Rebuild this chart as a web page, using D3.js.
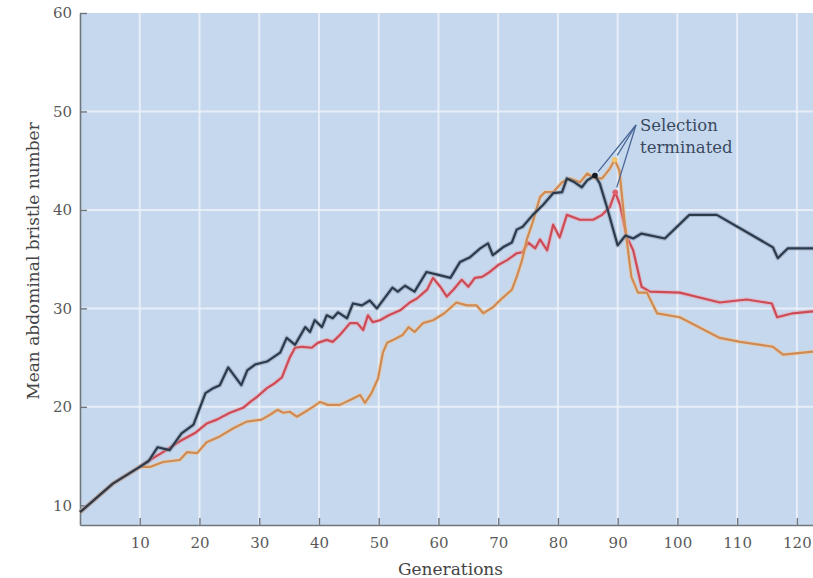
<!DOCTYPE html>
<html>
<head>
<meta charset="utf-8">
<script src="https://cdn.jsdelivr.net/npm/d3@7"></script>
<style>
  body { margin: 0; background: #fff; }
  svg { display: block; }
</style>
</head>
<body>
<div id="chart"></div>
<script>
// Values (generation, mean bristle number)
const xTicks = [10, 20, 30, 40, 50, 60, 70, 80, 90, 100, 110, 120];
const yTicks = [10, 20, 30, 40, 50, 60];

const darkGen = [0, 5.5, 10, 11.5, 13, 15, 17, 19, 21, 22.3, 23.4, 24.8, 27, 28, 29.3, 31.3, 33.5, 34.6, 36, 37.7, 38.5, 39.3, 40.5, 41.3, 42.3, 43.2, 44.7, 45.7, 47.2, 48.5, 49.7, 52.3, 53.2, 54.4, 56, 58, 60, 62, 63.6, 65.3, 67, 68.3, 69.1, 70.8, 72.3, 73.1, 74.1, 75.8, 77.5, 79.2, 80.7, 81.5, 82.8, 84, 84.9, 86.2, 87, 88.2, 90, 91.3, 92.6, 94, 97.9, 102, 106.6, 116, 116.8, 118.5, 122.7];
const darkVal = [9.3, 12.2, 13.9, 14.5, 15.9, 15.6, 17.3, 18.2, 21.4, 21.9, 22.2, 24.0, 22.2, 23.7, 24.3, 24.6, 25.5, 27, 26.3, 28.1, 27.6, 28.8, 28.1, 29.3, 29, 29.6, 29, 30.5, 30.3, 30.8, 30, 32.1, 31.7, 32.3, 31.7, 33.7, 33.4, 33.1, 34.7, 35.2, 36.1, 36.6, 35.4, 36.2, 36.7, 38, 38.3, 39.5, 40.5, 41.7, 41.8, 43.2, 42.8, 42.3, 43, 43.5, 42.7, 40.3, 36.4, 37.4, 37.1, 37.6, 37.1, 39.5, 39.5, 36.2, 35.1, 36.1, 36.1];

const redGen = [0, 5.5, 10, 11.7, 13.9, 16.7, 19.4, 21.2, 22.9, 25.1, 27.3, 28.5, 29.6, 31.3, 32.6, 33.8, 35.1, 36, 37.2, 38.8, 39.8, 41.3, 42.3, 43.5, 45.2, 46.4, 47.4, 48.2, 49, 50.2, 51.7, 53.6, 55.2, 56.4, 58.1, 59.1, 60.3, 61.4, 62.5, 63.9, 65, 66.1, 67.3, 68.6, 70, 71.5, 73.1, 74.1, 75, 76.2, 77, 78.2, 79.2, 80.3, 81.5, 83.7, 85.9, 87.4, 88.7, 89.6, 90.4, 91.5, 92.6, 94, 95.4, 100.4, 107.1, 111.6, 115.8, 116.7, 119.3, 122.7];
const redVal = [9.3, 12.2, 13.9, 14.6, 15.4, 16.5, 17.4, 18.3, 18.7, 19.4, 19.9, 20.5, 21, 21.9, 22.4, 23, 25, 26, 26.1, 26, 26.5, 26.8, 26.6, 27.3, 28.5, 28.5, 27.8, 29.3, 28.6, 28.8, 29.3, 29.8, 30.6, 31, 31.9, 33.1, 32.2, 31.2, 31.9, 32.9, 32.2, 33.1, 33.2, 33.7, 34.4, 34.9, 35.6, 35.7, 36.7, 36.1, 37, 35.9, 38.5, 37.2, 39.5, 39, 39, 39.5, 40.3, 41.8, 40.5, 37.3, 35.9, 32.2, 31.7, 31.6, 30.6, 30.9, 30.5, 29.1, 29.5, 29.7];

const orangeGen = [0, 5.5, 10, 11.7, 13.9, 16.7, 17.9, 19.6, 21.2, 23.4, 25.6, 27.9, 30.4, 31.8, 33.1, 34, 35.1, 36.3, 37.7, 39, 40.2, 41.5, 43.5, 45.2, 46.9, 47.7, 48.8, 49.9, 50.7, 51.4, 52.4, 54, 55, 56, 57.4, 59.1, 61, 63, 64.8, 66.4, 67.5, 69.1, 70.8, 72.3, 73.1, 74, 74.8, 75.8, 77, 77.8, 79.2, 80.7, 82, 83.7, 84.9, 86.2, 87.4, 88.7, 89.5, 90.3, 91.2, 92.3, 93.4, 94.9, 96.6, 100.4, 107.1, 110.5, 116, 117.7, 122.7];
const orangeVal = [9.3, 12.2, 13.9, 13.9, 14.4, 14.6, 15.4, 15.3, 16.4, 17, 17.8, 18.5, 18.7, 19.2, 19.7, 19.4, 19.5, 19, 19.5, 20, 20.5, 20.2, 20.2, 20.7, 21.2, 20.4, 21.4, 22.9, 25.5, 26.5, 26.8, 27.3, 28.1, 27.6, 28.5, 28.8, 29.5, 30.6, 30.3, 30.3, 29.5, 30.1, 31.1, 31.9, 33.2, 34.9, 37, 38.8, 41.3, 41.8, 41.8, 42.8, 43.2, 42.8, 43.7, 43.2, 43.2, 44.2, 45.1, 44, 38.5, 33.2, 31.6, 31.6, 29.5, 29.1, 27, 26.6, 26.1, 25.3, 25.6];

// points where selection was stopped: [generation, value]
const stopDark = [86.2, 43.5];
const stopOrange = [89.5, 45.1];
const stopRed = [89.6, 41.8];

const WIDTH = 813;
const HEIGHT = 578;
const LEFT = 80, RIGHT = 813, TOP = 13, BOTTOM = 525;

const svg = d3
  .select("#chart")
  .append("svg")
  .attr("width", WIDTH)
  .attr("height", HEIGHT)
  .style("font-family", "'DejaVu Serif', serif");

const x = d3.scaleLinear().domain([0, 122.7]).range([LEFT, RIGHT]);
const y = d3.scaleLinear().domain([8, 60]).range([BOTTOM, TOP]);

// plot background
svg
  .append("rect")
  .attr("x", LEFT)
  .attr("y", TOP)
  .attr("width", RIGHT - LEFT)
  .attr("height", BOTTOM - TOP)
  .attr("fill", "#c6d8ee");

// white grid
svg
  .selectAll(".vgrid")
  .data(xTicks)
  .enter()
  .append("line")
  .attr("x1", (d) => x(d))
  .attr("x2", (d) => x(d))
  .attr("y1", TOP)
  .attr("y2", BOTTOM)
  .attr("stroke", "#eef3fa")
  .attr("stroke-width", 2)
  .attr("opacity", 0.85);

svg
  .selectAll(".hgrid")
  .data(yTicks.filter((d) => d > 10 && d < 60))
  .enter()
  .append("line")
  .attr("x1", LEFT)
  .attr("x2", RIGHT)
  .attr("y1", (d) => y(d))
  .attr("y2", (d) => y(d))
  .attr("stroke", "#eef3fa")
  .attr("stroke-width", 2)
  .attr("opacity", 0.85);

// axes
const xAxis = svg
  .append("g")
  .attr("transform", `translate(0, ${BOTTOM})`)
  .call(d3.axisBottom(x).tickValues(xTicks).tickSizeInner(-7).tickSizeOuter(0).tickPadding(12));

const yAxis = svg
  .append("g")
  .attr("transform", `translate(${LEFT}, 0)`)
  .call(d3.axisLeft(y).tickValues(yTicks).tickSizeInner(-7).tickSizeOuter(0).tickPadding(8));

[xAxis, yAxis].forEach((g) => {
  g.select(".domain").attr("stroke", "#6f767e").attr("stroke-width", 1.6);
  g.selectAll(".tick line").attr("stroke", "#6f767e").attr("stroke-width", 1.4);
  g.selectAll(".tick text")
    .attr("fill", "#5a5a5a")
    .style("font-family", "'DejaVu Serif', serif")
    .style("font-size", "15px");
});

// the three selection lines
const line = d3
  .line()
  .x((d) => x(d[0]))
  .y((d) => y(d[1]));

const series = [
  { gen: redGen, val: redVal, color: "#cc4b55", halo: "#f0a0a8" },
  { gen: orangeGen, val: orangeVal, color: "#d08a52", halo: "#f2c890" },
  { gen: darkGen, val: darkVal, color: "#2c3a4b", halo: "#7b8ba0" },
];

series.forEach((s) => {
  const pts = d3.zip(s.gen, s.val);
  svg
    .append("path")
    .attr("d", line(pts))
    .attr("fill", "none")
    .attr("stroke", s.halo)
    .attr("stroke-width", 4.5)
    .attr("stroke-linejoin", "round")
    .attr("opacity", 0.45);
  svg
    .append("path")
    .attr("d", line(pts))
    .attr("fill", "none")
    .attr("stroke", s.color)
    .attr("stroke-width", 2.2)
    .attr("stroke-linejoin", "round");
});

// annotation
const noteX = 636, noteY = 125;
const stops = [
  { p: stopDark, fill: "#151820" },
  { p: stopOrange, fill: "#f1c56a" },
  { p: stopRed, fill: "#e0606a" },
];

stops.forEach((s) => {
  const px = x(s.p[0]);
  const py = y(s.p[1]);
  const dx = noteX - px;
  const dy = noteY - py;
  const len = Math.sqrt(dx * dx + dy * dy);
  svg
    .append("line")
    .attr("x1", noteX)
    .attr("y1", noteY)
    .attr("x2", px + (dx / len) * 5)
    .attr("y2", py + (dy / len) * 5)
    .attr("stroke", "#4a6896")
    .attr("stroke-width", 1.3);
  svg
    .append("circle")
    .attr("cx", px)
    .attr("cy", py)
    .attr("r", 2.8)
    .attr("fill", s.fill);
});

svg
  .append("text")
  .attr("x", 640)
  .attr("y", 131)
  .attr("fill", "#3a4a60")
  .style("font-size", "16.5px")
  .text("Selection");

svg
  .append("text")
  .attr("x", 640)
  .attr("y", 153)
  .attr("fill", "#3a4a60")
  .style("font-size", "16.5px")
  .text("terminated");

// axis titles
svg
  .append("text")
  .attr("x", (LEFT + RIGHT) / 2 + 4)
  .attr("y", 575)
  .attr("text-anchor", "middle")
  .attr("fill", "#444")
  .style("font-size", "17px")
  .text("Generations");

svg
  .append("text")
  .attr("transform", "translate(39, 261) rotate(-90)")
  .attr("text-anchor", "middle")
  .attr("fill", "#444")
  .style("font-size", "17px")
  .text("Mean abdominal bristle number");
</script>
</body>
</html>
